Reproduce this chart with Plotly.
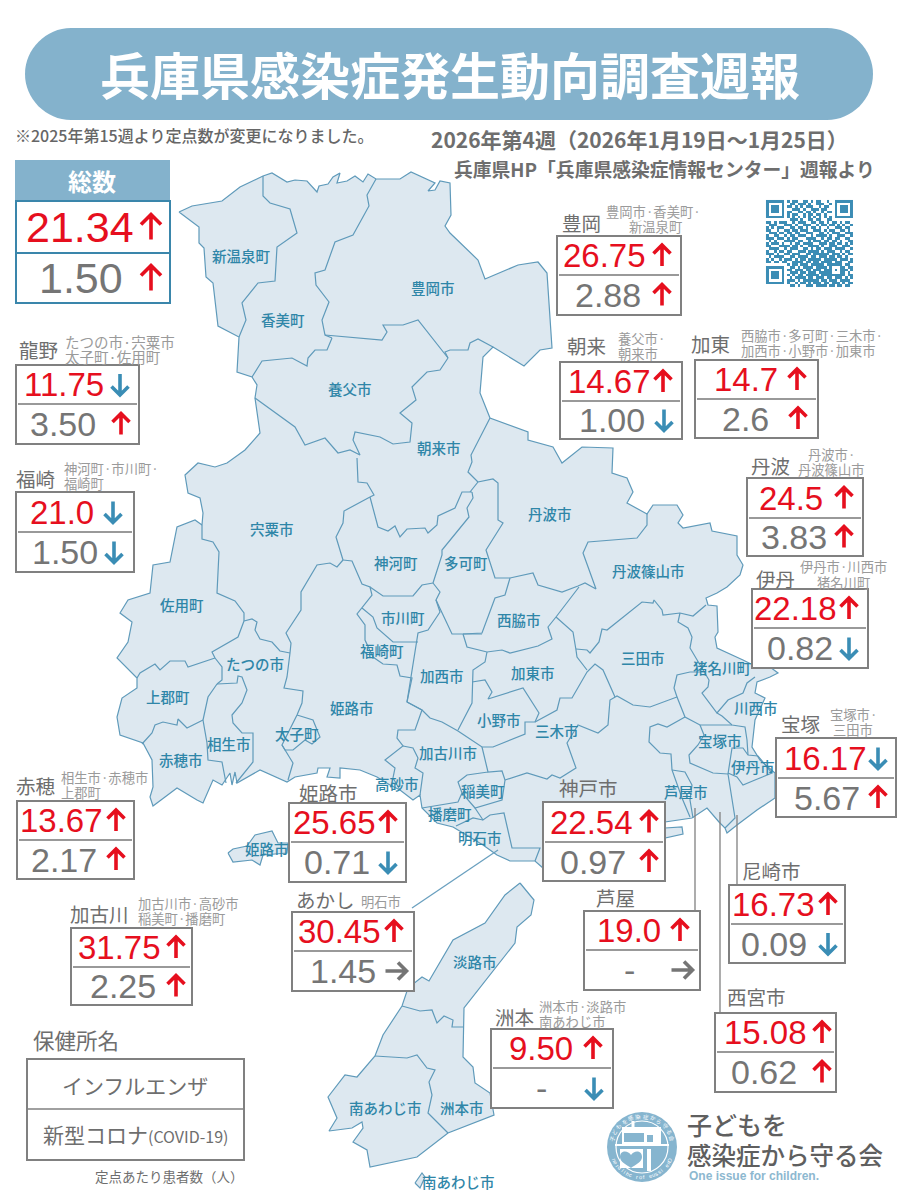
import math
import plotly.graph_objects as go

# Health centre figures (influenza / COVID-19 per sentinel site)
office_names = ['総数', '龍野', '福崎', '豊岡', '朝来', '加東', '丹波', '伊丹', '宝塚', '赤穂',
                '姫路市', '加古川', 'あかし', '神戸市', '芦屋', '尼崎市', '西宮市', '洲本']
flu_values = ['21.34', '11.75', '21.0', '26.75', '14.67', '14.7', '24.5', '22.18', '16.17', '13.67',
              '25.65', '31.75', '30.45', '22.54', '19.0', '16.73', '15.08', '9.50']
covid_values = ['1.50', '3.50', '1.50', '2.88', '1.00', '2.6', '3.83', '0.82', '5.67', '2.17',
                '0.71', '2.25', '1.45', '0.97', '-', '0.09', '0.62', '-']
flu_trend = ['up', 'down', 'down', 'up', 'up', 'up', 'up', 'up', 'down', 'up',
             'up', 'up', 'up', 'up', 'up', 'up', 'up', 'up']
covid_trend = ['up', 'up', 'down', 'up', 'down', 'up', 'up', 'down', 'up', 'up',
               'down', 'up', 'right', 'up', 'right', 'down', 'up', 'down']

# Where each box sits: left, top, divider, right, bottom
box_left = [16, 16, 16, 557, 560, 695, 747, 752, 776, 17, 289, 71, 292, 543, 584, 729, 715, 491]
box_top = [201, 365, 492, 236, 362, 360, 478, 589, 738, 801, 803, 928, 912, 802, 911, 885, 1013, 1029]
box_div = [253, 404, 532, 275, 401, 399, 518, 628, 778, 840, 842, 967, 951, 842, 950, 924, 1052, 1068]
box_right = [170, 139, 134, 681, 682, 818, 863, 868, 896, 134, 406, 192, 414, 665, 700, 845, 836, 613]
box_bottom = [303, 444, 572, 315, 439, 438, 556, 668, 817, 879, 882, 1005, 991, 881, 990, 963, 1092, 1108]
flu_x = [80, 64, 62, 604, 609, 746, 791, 795, 825, 61, 334, 119, 339, 591, 629, 773, 765, 541]
covid_x = [81, 63, 65, 608, 612, 745, 794, 800, 827, 64, 337, 123, 343, 593, 629, 774, 764, 541]
flu_arrow_x = [151, 120, 113, 662, 663, 797, 844, 849, 878, 116, 388, 176, 394, 649, 680, 828, 822, 593]
covid_arrow_x = [151, 121, 114, 662, 664, 798, 844, 849, 878, 116, 388, 176, 396, 649, 682, 828, 822, 594]

# Office name + the towns it covers
name_pos = [(92, 180), (38, 349), (35, 478), (581, 222), (586, 345), (710, 343), (770, 465), (775, 578),
            (800, 723), (35, 785), (328, 792), (99, 913), (325, 899), (588, 787), (615, 897), (771, 870),
            (756, 996), (514, 1016)]
sub_labels = [
    (64, 341, 'left', 'たつの市·宍粟市'), (64, 356, 'left', '太子町·佐用町'),
    (63, 468, 'left', '神河町·市川町·'), (63, 483, 'left', '福崎町'),
    (653, 211, 'center', '豊岡市·香美町·'), (655, 226, 'center', '新温泉町'),
    (617, 338, 'left', '養父市·'), (617, 353, 'left', '朝来市'),
    (740, 335, 'left', '西脇市·多可町·三木市·'), (740, 350, 'left', '加西市·小野市·加東市'),
    (831, 454, 'center', '丹波市·'), (831, 469, 'center', '丹波篠山市'),
    (843, 566, 'center', '伊丹市·川西市'), (843, 582, 'center', '猪名川町'),
    (853, 714, 'center', '宝塚市·'), (853, 729, 'center', '三田市'),
    (60, 777, 'left', '相生市·赤穂市'), (60, 792, 'left', '上郡町'),
    (137, 903, 'left', '加古川市·高砂市'), (137, 918, 'left', '稲美町·播磨町'),
    (360, 901, 'left', '明石市'),
    (538, 1006, 'left', '洲本市·淡路市'), (538, 1021, 'left', '南あわじ市'),
]

town_labels = [
    ('新温泉町', 241, 255), ('香美町', 283, 319), ('豊岡市', 433, 287), ('養父市', 350, 388), ('朝来市', 439, 447),
    ('丹波市', 550, 513), ('丹波篠山市', 648, 570), ('宍粟市', 272, 528), ('神河町', 396, 562), ('多可町', 466, 562),
    ('市川町', 403, 617), ('佐用町', 182, 604), ('福崎町', 382, 650), ('西脇市', 519, 619), ('加東市', 533, 672),
    ('三田市', 643, 657), ('猪名川町', 722, 667), ('たつの市', 255, 663), ('加西市', 442, 675), ('小野市', 499, 719),
    ('上郡町', 168, 696), ('姫路市', 352, 707), ('川西市', 756, 707), ('三木市', 557, 730), ('太子町', 297, 733),
    ('相生市', 229, 743), ('加古川市', 448, 752), ('宝塚市', 720, 740), ('赤穂市', 181, 759), ('伊丹市', 753, 766),
    ('稲美町', 483, 790), ('芦屋市', 686, 791), ('高砂市', 397, 783), ('播磨町', 450, 813), ('明石市', 480, 837),
    ('姫路市', 267, 848), ('淡路市', 475, 961), ('南あわじ市', 385, 1107), ('洲本市', 462, 1107), ('南あわじ市', 458, 1181),
]

# Map geometry
mainland = [
    (179, 212), (192, 206), (222, 201), (240, 187), (263, 176), (272, 173), (287, 182), (295, 180), (307, 181),
    (317, 192), (319, 186), (328, 184), (333, 177), (340, 173), (337, 183), (347, 181), (355, 176), (363, 182),
    (368, 174), (376, 179), (400, 179), (411, 172), (435, 183), (428, 191), (435, 190), (440, 181), (450, 183),
    (451, 215), (445, 226), (450, 233), (478, 260), (485, 279), (518, 265), (538, 262), (547, 273), (549, 300),
    (552, 348), (540, 350), (524, 366), (493, 347), (483, 357), (480, 393), (490, 418), (528, 432), (528, 440),
    (553, 447), (562, 463), (582, 447), (613, 448), (612, 473), (627, 478), (633, 492), (627, 503), (647, 514),
    (653, 505), (677, 505), (683, 515), (678, 523), (683, 528), (710, 523), (712, 531), (737, 536), (737, 555),
    (743, 565), (740, 575), (727, 587), (717, 593), (706, 598), (708, 605), (717, 606), (718, 632), (715, 637),
    (717, 648), (743, 660), (753, 665), (770, 667), (778, 673), (770, 677), (757, 682), (755, 693), (765, 698),
    (755, 720), (752, 747), (760, 760), (775, 773), (775, 798), (757, 810), (737, 825), (727, 833), (725, 828),
    (719, 822), (707, 808), (692, 818), (665, 822), (640, 845), (543, 868), (535, 861), (510, 861), (497, 855),
    (483, 845), (470, 837), (453, 827), (437, 823), (422, 808), (420, 795), (413, 800), (400, 790), (390, 785),
    (377, 777), (360, 770), (340, 768), (340, 778), (327, 777), (330, 768), (318, 768), (317, 773), (295, 777),
    (290, 780), (287, 782), (260, 770), (237, 783), (235, 772), (232, 785), (230, 773), (222, 785), (213, 780),
    (203, 803), (197, 800), (177, 788), (153, 806), (150, 797), (153, 787), (152, 760), (143, 743), (120, 735),
    (117, 717), (122, 698), (137, 688), (137, 678), (117, 658), (128, 642), (132, 622), (120, 613), (128, 600),
    (150, 593), (153, 565), (170, 562), (177, 527), (195, 520), (202, 525), (203, 513), (200, 498), (188, 493),
    (185, 475), (198, 463), (215, 467), (227, 463), (245, 450), (260, 433), (255, 398), (257, 385), (252, 377),
    (237, 372), (239, 337), (218, 326), (213, 283), (206, 277), (204, 248), (199, 243), (199, 227),
]
awaji = [
    (520, 883), (534, 900), (531, 915), (517, 927), (515, 943), (464, 1008), (463, 1057), (473, 1067), (475, 1083),
    (490, 1093), (494, 1115), (448, 1133), (417, 1157), (370, 1167), (367, 1150), (353, 1142), (363, 1128),
    (362, 1122), (352, 1128), (329, 1131), (337, 1118), (328, 1097), (345, 1075), (357, 1077), (375, 1056),
    (383, 1035), (402, 1006), (408, 988), (422, 977), (429, 981), (453, 940), (485, 923), (505, 895),
]
islands = [
    [(228, 853), (233, 849), (247, 846), (255, 835), (272, 831), (278, 843), (288, 843), (287, 853), (263, 855),
     (260, 865), (252, 860), (233, 862)],
    [(415, 1183), (422, 1173), (425, 1177), (420, 1188)],
    [(665, 828), (682, 827), (683, 834), (665, 838)],
]
borders = [
    [(263, 176), (263, 196), (270, 203), (290, 209), (297, 233), (277, 247), (275, 281), (258, 283), (242, 303), (246, 320), (239, 337)],
    [(376, 179), (367, 195), (369, 206), (353, 235), (335, 242), (325, 270), (315, 273), (316, 285), (329, 302), (322, 320), (325, 335), (332, 338)],
    [(332, 338), (327, 350), (315, 350), (308, 358), (307, 366), (292, 358), (262, 361), (252, 377)],
    [(325, 335), (382, 340), (387, 332), (383, 325), (403, 325), (418, 320), (448, 358)],
    [(448, 358), (440, 370), (427, 372), (412, 387), (416, 400), (400, 413), (412, 423), (410, 442), (393, 444), (380, 437), (355, 432), (353, 440), (360, 455), (350, 450), (338, 453), (325, 438), (305, 445), (295, 427), (255, 398)],
    [(448, 358), (445, 352), (450, 350), (468, 350), (470, 343), (478, 339), (493, 347)],
    [(357, 458), (358, 482), (367, 483), (374, 495), (370, 497)],
    [(370, 497), (344, 511), (343, 523), (336, 537), (343, 560)],
    [(343, 560), (337, 567), (330, 563), (317, 565), (301, 592), (301, 610), (286, 633), (291, 643), (290, 653)],
    [(290, 653), (280, 651), (272, 642), (260, 639), (255, 630), (257, 622), (252, 619), (244, 621)],
    [(202, 525), (202, 539), (213, 542), (219, 552), (217, 593), (235, 601), (244, 613), (244, 621)],
    [(244, 621), (238, 637), (212, 652), (215, 658)],
    [(215, 658), (188, 667), (185, 661), (170, 661), (160, 670), (155, 664), (140, 673), (137, 678)],
    [(215, 658), (222, 667), (222, 680), (217, 684)],
    [(217, 684), (208, 697), (203, 720), (207, 743), (208, 760), (222, 762), (226, 783)],
    [(203, 720), (187, 728), (178, 719), (177, 725), (163, 722), (155, 725), (152, 733), (142, 744)],
    [(217, 684), (237, 683), (238, 676), (242, 677), (247, 690), (242, 703), (232, 715), (233, 723), (242, 733), (253, 733), (253, 762), (236, 783)],
    [(290, 653), (287, 677), (284, 688), (303, 691), (302, 703), (297, 715), (282, 745), (293, 763), (288, 780)],
    [(297, 715), (313, 720), (320, 737), (312, 744), (305, 740), (293, 750), (285, 750), (282, 745)],
    [(343, 560), (352, 561), (362, 584), (370, 587), (372, 595), (362, 608), (357, 614), (365, 625), (365, 640), (373, 657), (383, 664), (397, 665), (400, 676), (412, 678), (407, 702), (422, 710)],
    [(370, 587), (383, 596), (413, 596), (422, 585), (433, 583)],
    [(370, 497), (378, 527), (388, 531), (395, 526), (400, 537), (407, 529), (425, 528), (428, 533), (437, 525), (438, 516), (455, 508), (462, 492), (472, 492)],
    [(472, 492), (473, 498), (467, 508), (469, 517), (442, 550), (442, 555), (433, 583)],
    [(470, 492), (478, 482), (493, 479), (498, 483), (498, 520), (503, 523), (486, 550), (495, 578), (510, 578)],
    [(478, 482), (468, 472), (472, 462), (471, 455), (490, 418)],
    [(647, 514), (647, 525), (637, 538), (588, 542), (583, 553), (596, 589), (585, 583), (578, 586), (562, 592), (538, 585), (533, 573), (510, 578)],
    [(510, 578), (505, 595), (495, 598), (482, 633), (463, 634)],
    [(433, 583), (440, 592), (436, 600), (452, 634), (482, 634)],
    [(463, 634), (467, 647), (487, 652), (502, 650), (510, 653), (538, 646), (552, 639), (548, 627), (556, 617), (579, 587)],
    [(436, 600), (440, 612), (428, 630), (418, 633), (407, 702)],
    [(362, 608), (373, 617), (377, 628), (393, 642), (418, 642)],
    [(487, 652), (485, 662), (473, 670), (472, 703), (458, 730)],
    [(422, 710), (430, 718), (442, 722), (458, 731), (482, 747), (493, 747), (525, 734), (525, 722), (535, 722), (539, 713), (523, 688), (488, 699), (492, 692), (485, 680), (472, 682)],
    [(535, 722), (557, 710), (560, 698), (572, 698), (587, 672), (595, 664), (603, 670), (615, 697)],
    [(556, 617), (573, 632), (576, 650), (577, 657), (587, 670)],
    [(576, 649), (587, 650), (590, 653), (599, 642), (602, 629), (607, 630), (642, 602), (653, 603), (654, 600), (662, 610), (663, 615), (680, 613), (693, 616), (706, 605)],
    [(680, 613), (678, 622), (688, 628), (692, 637), (690, 648), (705, 673), (709, 680), (708, 687), (702, 693), (717, 713), (728, 700), (743, 693), (747, 683), (755, 677)],
    [(705, 672), (690, 672), (677, 675), (674, 688), (677, 697), (650, 707), (633, 705), (617, 696), (610, 700), (608, 725), (598, 733), (578, 725), (567, 743), (576, 768), (560, 778), (552, 775), (547, 779), (527, 773), (505, 780)],
    [(717, 713), (722, 716), (732, 725), (745, 727), (747, 740), (748, 755)],
    [(677, 697), (685, 717), (700, 725), (708, 725), (732, 725)],
    [(700, 725), (704, 735), (698, 745), (689, 755), (690, 763), (713, 773), (728, 774)],
    [(685, 717), (667, 727), (658, 724), (650, 727), (649, 742), (660, 753), (671, 754), (672, 770), (682, 798), (690, 817)],
    [(672, 770), (685, 772), (692, 785), (690, 800), (693, 818)],
    [(728, 774), (733, 803), (735, 818), (725, 828)],
    [(728, 774), (732, 748), (743, 748), (748, 755), (758, 756), (772, 773), (755, 780), (743, 785), (737, 777), (728, 773)],
    [(482, 747), (488, 772), (502, 771), (505, 780), (504, 787), (502, 800), (475, 808), (462, 793), (458, 782), (467, 775), (488, 772)],
    [(475, 808), (483, 820), (490, 815), (504, 813), (512, 848), (540, 848), (535, 861)],
    [(483, 820), (473, 818), (456, 826)],
    [(422, 808), (442, 805), (458, 802), (462, 793)],
    [(407, 702), (422, 710), (415, 730), (398, 730), (397, 738), (403, 746), (385, 760), (395, 768), (393, 778), (400, 790)],
    [(403, 746), (413, 748), (418, 758), (415, 768), (423, 773), (420, 795)],
    [(402, 1006), (420, 1011), (432, 1010), (437, 1023), (444, 1016), (453, 1020), (452, 1027), (463, 1027)],
    [(375, 1056), (407, 1058), (417, 1055), (427, 1068), (435, 1070), (429, 1082), (432, 1095), (428, 1113), (448, 1133)],
]

qr_rows = [
    '111111101011001101011001001111111',
    '100000100110111010011100101000001',
    '101110101101010111001011001011101',
    '101110100011101001110110001011101',
    '101110101100110110100101101011101',
    '100000101011001011011010001000001',
    '111111101010101010101010101111111',
    '000000000111010011011001100000000',
    '110101110010111001101101011010110',
    '011100011101001110010110110101001',
    '101011100110110101101001001110110',
    '110010011011011100111010110011010',
    '011101101101100111001101011100111',
    '100110010110111001011110100111001',
    '111011101011000111100101101100110',
    '010100011110110010111011011010011',
    '101110100101101111001110110110101',
    '110001111011010011110100111001110',
    '011110010111001101011011101111001',
    '100101101100111011110101110010110',
    '111010011011100110111111011101011',
    '010111100110111101101110110110100',
    '101001011101011011111011111011101',
    '110110110011110110110111101110011',
    '000000001011011101111101111110110',
    '111111100110101111011110100011011',
    '100000101101110110111011101011101',
    '101110100111011011101111100011010',
    '101110101010110111110111111111011',
    '101110100101111011011101101110101',
    '100000101110101111110110111011110',
    '111111101001011010111011011101011',
    '000000000110100111011110110110110',
]

GREY = '#6e6e6e'
NUM_GREY = '#757575'
FRAME = '#808080'
RED = '#e60f1e'
BLUE = '#3a8db5'
PILL = '#84b2cc'
JP = 'Noto Sans CJK JP'
NUM = 'Liberation Sans'
arrow_colors = {'up': RED, 'down': BLUE, 'right': '#757575'}

fig = go.Figure()


def add_text(x, y, text, size, color=GREY, anchor='center', font=JP, weight=None, angle=0):
    fig.add_annotation(x=x, y=y, text=text, showarrow=False, xanchor=anchor, yanchor='middle', textangle=angle,
                       borderpad=0, font=dict(family=font, size=size, color=color, weight=weight))


def add_rect(x0, y0, x1, y1, line=FRAME, width=2, fill='white'):
    fig.add_shape(type='rect', x0=x0, y0=y0, x1=x1, y1=y1, layer='above', fillcolor=fill,
                  line=dict(color=line, width=width))


def add_line(x0, y0, x1, y1, color=FRAME, width=1.3):
    fig.add_shape(type='line', x0=x0, y0=y0, x1=x1, y1=y1, layer='above', line=dict(color=color, width=width))


def add_arrow(cx, cy, direction, w=17, h=21, width=3.6):
    if direction == 'right':
        p = f'M {cx-h/2} {cy} L {cx+h/2} {cy} M {cx+h/2-w/2} {cy-w/2} L {cx+h/2} {cy} L {cx+h/2-w/2} {cy+w/2}'
    else:
        s = -1 if direction == 'up' else 1
        tip = cy + s * h / 2
        p = f'M {cx} {cy-s*h/2} L {cx} {tip} M {cx-w/2} {tip-s*w/2} L {cx} {tip} L {cx+w/2} {tip-s*w/2}'
    fig.add_shape(type='path', path=p, layer='above', line=dict(color=arrow_colors[direction], width=width))


# Map
for poly in [mainland, awaji] + islands:
    fig.add_trace(go.Scatter(x=[p[0] for p in poly] + [poly[0][0]], y=[p[1] for p in poly] + [poly[0][1]],
                             mode='lines', fill='toself', fillcolor='#dde8f0',
                             line=dict(color='#5f9aba', width=1.2), hoverinfo='skip', showlegend=False))

bx, by = [], []
for b in borders:
    bx += [p[0] for p in b] + [None]
    by += [p[1] for p in b] + [None]
fig.add_trace(go.Scatter(x=bx, y=by, mode='lines', line=dict(color='#5f9aba', width=1.2),
                         hoverinfo='skip', showlegend=False))

for name, x, y in town_labels:
    add_text(x, y, name, 14.5, color='#2f86a8', weight=500)

# QR code
fig.add_trace(go.Heatmap(z=[[int(c) for c in row] for row in qr_rows], x0=767.3, dx=2.64, y0=201.3, dy=2.64,
                         colorscale=[[0, 'rgba(255,255,255,0)'], [1, '#3c8db5']], showscale=False, hoverinfo='skip'))

# Title pill
fig.add_shape(type='path', layer='above', fillcolor=PILL, line=dict(width=0),
              path='M 71 28 L 827 28 C 852 28 873 49 873 74 C 873 99 852 120 827 120 L 71 120 C 46 120 25 99 25 74 C 25 49 46 28 71 28 Z')
add_text(450, 73, '兵庫県感染症発生動向調査週報', 50, color='white', weight=700)
add_text(14, 135, '※2025年第15週より定点数が変更になりました。', 16, color='#666666', anchor='left', weight=500)
add_text(849, 139, '2026年第4週（2026年1月19日〜1月25日）', 21, anchor='right', weight=700)
add_text(876, 168, '兵庫県HP「兵庫県感染症情報センター」週報より', 18.8, anchor='right', weight=700)

# Leader lines
add_line(695, 808, 695, 913)
add_line(720, 812, 720, 1015)
add_line(737, 815, 737, 887)
add_line(412, 908, 498, 850, color='#6aa0bf')

# Office boxes
for i, name in enumerate(office_names):
    big = i == 0
    l, t, d, r, b = box_left[i], box_top[i], box_div[i], box_right[i], box_bottom[i]
    if big:
        fig.add_shape(type='rect', x0=15, y0=160, x1=170, y1=201, layer='above', fillcolor=PILL, line=dict(width=0))
        add_rect(l, t, r, b, line='#3a86ab')
        add_line(l, d, r, d, color='#3a86ab', width=2)
        add_text(92, 180, name, 24, color='white', weight=700)
    else:
        add_rect(l, t, r, b)
        add_line(l + 2, d, r - 2, d, color='#777777', width=1.5)
        add_text(name_pos[i][0], name_pos[i][1], name, 19.5)
    flu_size, covid_size = (43, 43) if big else (33, 34)
    flu_y = (t + d) / 2
    covid_y = (d + b) / 2
    add_text(flu_x[i], flu_y, flu_values[i], flu_size, color=RED, font=NUM)
    add_text(covid_x[i], covid_y, covid_values[i], covid_size, color=NUM_GREY, font=NUM)
    aw, ah = (20, 25) if big else (17, 21)
    add_arrow(flu_arrow_x[i], flu_y, flu_trend[i], aw, ah)
    add_arrow(covid_arrow_x[i], covid_y, covid_trend[i], aw, ah)

for i, (x, y, anchor, text) in enumerate(sub_labels):
    add_text(x, y, text, 14.5 if i < 2 else 13.3, color='#9a9a9a', anchor=anchor)

# Legend
add_text(76, 1039, '保健所名', 21.5)
add_rect(27, 1059, 244, 1160)
add_line(27, 1109, 244, 1109)
add_text(135, 1085, 'インフルエンザ', 21)
add_text(135, 1134, '新型コロナ<span style="font-size:16px">(COVID-19)</span>', 21)
add_text(169, 1176, '定点あたり患者数（人）', 13.5)

# Logo
lx, ly = 642, 1147
fig.add_shape(type='circle', x0=lx-35, y0=ly-35, x1=lx+35, y1=ly+35, layer='above', fillcolor='#86b5cf', line=dict(width=0))
fig.add_shape(type='circle', x0=lx-26, y0=ly-26, x1=lx+26, y1=ly+26, layer='above', fillcolor='rgba(0,0,0,0)', line=dict(color='white', width=1.2))
add_line(lx-27, ly-2, lx+27, ly-2, color='white', width=2)
add_rect(lx-20, ly-20, lx+19, ly-3, line='white', width=0, fill='white')
add_rect(lx-18, ly-14, lx+2, ly-5, line='#86b5cf', width=0, fill='#86b5cf')
add_rect(lx+5, ly-12, lx+11, ly-5, line='#86b5cf', width=0, fill='#86b5cf')
add_line(lx-9, ly-26, lx-9, ly-20, color='white', width=3)
add_rect(lx-22, ly+2, lx+1, ly+21, line='white', width=0, fill='white')
add_rect(lx+5, ly+2, lx+9, ly+24, line='white', width=0, fill='white')
hx, hy = lx - 11, ly + 8
fig.add_shape(type='path', layer='above', fillcolor='#86b5cf', line=dict(width=0),
              path=f'M {hx} {hy} C {hx-3} {hy-5} {hx-11} {hy-5} {hx-11} {hy+2} C {hx-11} {hy+7} {hx-4} {hy+10} {hx} {hy+13} C {hx+4} {hy+10} {hx+11} {hy+7} {hx+11} {hy+2} C {hx+11} {hy-5} {hx+3} {hy-5} {hx} {hy} Z')
top_ring = '子どもを感染症から守る会'
for i, ch in enumerate(top_ring):
    a = math.radians(-75 + i * 150 / (len(top_ring) - 1))
    add_text(lx + 30.5 * math.sin(a), ly - 30.5 * math.cos(a), ch, 5.5, color='white', angle=math.degrees(a))
bottom_ring = 'One issue for children'
for i, ch in enumerate(bottom_ring):
    a = math.radians(65 - i * 130 / (len(bottom_ring) - 1))
    add_text(lx + 30.5 * math.sin(a), ly + 30.5 * math.cos(a), ch, 5.5, color='white', angle=-math.degrees(a), font=NUM)

add_text(686, 1124, '子どもを', 25, color='#5f5f5f', anchor='left', weight=500)
add_text(686, 1154, '感染症から守る会', 24.5, color='#5f5f5f', anchor='left', weight=500)
add_text(688, 1176, 'One issue for children.', 12, color='#8db8d0', anchor='left', font=NUM, weight=700)

fig.update_xaxes(range=[0, 900], visible=False, fixedrange=True)
fig.update_yaxes(range=[1200, 0], visible=False, fixedrange=True)
fig.update_layout(width=900, height=1200, margin=dict(l=0, r=0, t=0, b=0), paper_bgcolor='white',
                  plot_bgcolor='white', showlegend=False)

fig.write_html('out.html', config={'displayModeBar': False},
               post_script="document.body.style.margin='0';document.body.style.overflow='hidden';")
